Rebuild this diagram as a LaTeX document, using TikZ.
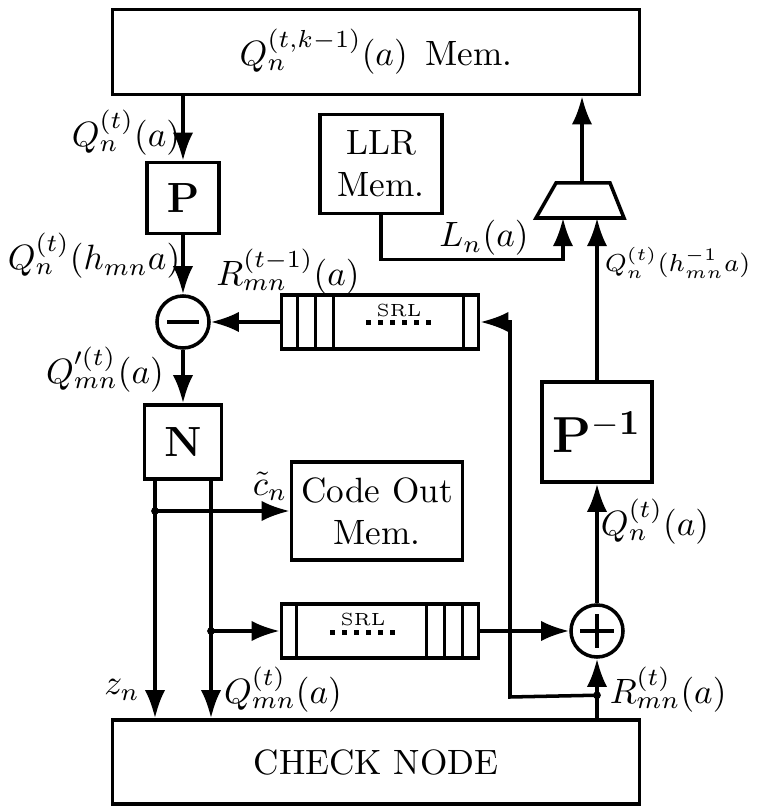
\documentclass[tikz,border=0pt]{standalone}
\usepackage{amsmath,amssymb}
\usepackage{tikz}
\usetikzlibrary{arrows.meta,positioning,calc}

\begin{document}
\begin{tikzpicture}[
    x=0.01cm, y=0.01cm,
    line width=1pt,
    >={Latex[length=8pt,width=5.8pt]},
    block/.style={draw, rectangle, align=center, inner sep=0pt},
    opcirc/.style={draw, circle, minimum size=0.52cm, inner sep=0pt},
    srlbox/.style={draw, rectangle, minimum width=1.97cm, minimum height=0.54cm, inner sep=0pt},
    jdot/.style={circle, fill, inner sep=0pt, minimum size=2.2pt}
]
\useasboundingbox (0,0) rectangle (756,806);

% memories and check node
\node[block, minimum width=5.27cm, minimum height=0.85cm] (qmem) at (376,754) {$Q_n^{(t,k-1)}(a)$\enspace Mem.};
\node[block, minimum width=5.27cm, minimum height=0.84cm] (check) at (376,44) {CHECK NODE};
\node[block, minimum width=1.22cm, minimum height=0.99cm] (llr) at (381,642) {LLR\\Mem.};
\node[block, minimum width=1.71cm, minimum height=0.98cm] (cout) at (377,295) {Code Out\\Mem.};

% left column
\node[block, minimum width=0.72cm, minimum height=0.71cm, font=\large] (perm) at (183,608) {$\mathbf{P}$};
\node[opcirc] (sub) at (183,484) {};
\node[block, minimum width=0.77cm, minimum height=0.74cm, font=\large] (norm) at (183,364) {$\mathbf{N}$};
\draw[line width=1.4pt] ($(sub.center)+(-16,0)$) -- ($(sub.center)+(16,0)$);

% right column
\node[opcirc] (add) at (597,175) {};
\node[block, minimum width=1.10cm, minimum height=1.00cm, font=\Large] (pinv) at (597,374) {$\mathbf{P^{-1}}$};
\draw[line width=1.4pt] ($(add.center)+(-17,0)$) -- ($(add.center)+(17,0)$)
    ($(add.center)+(0,-17)$) -- ($(add.center)+(0,17)$);

% shift registers
\node[srlbox] (srlup) at (380,484) {};
\node[srlbox] (srllow) at (380,175) {};
\foreach \d in {18,36,54} {
  \draw ($(srlup.south west)+(\d,0)$) -- ($(srlup.north west)+(\d,0)$);
  \draw ($(srllow.south east)+(-\d,0)$) -- ($(srllow.north east)+(-\d,0)$);
}
\draw ($(srlup.south east)+(-17,0)$) -- ($(srlup.north east)+(-17,0)$);
\draw ($(srllow.south west)+(17,0)$) -- ($(srllow.north west)+(17,0)$);
\node[font=\tiny, inner sep=0pt] (srlupt) at ($(srlup.center)+(19,11)$) {SRL};
\node[font=\tiny, inner sep=0pt] (srllowt) at ($(srllow.center)+(-17,12)$) {SRL};
\foreach \i in {0,...,5} {
  \fill ($(srlup.center)+(-14+\i*12,-3)$) rectangle ++(5,5);
  \fill ($(srllow.center)+(-50+\i*12,-4)$) rectangle ++(5,5);
}

% mux
\coordinate (muxin1) at (563,588);
\coordinate (muxin2) at (597,588);
\coordinate (muxout) at (582,623);
\draw (536,588) -- (624,588) -- (610,623) -- (556,623) -- cycle;

% connections
\draw[->] (qmem.south -| perm) -- (perm.north);
\draw[->] (perm) -- (sub);
\draw[->] (sub) -- (norm);
\draw[->] (srlup.west) -- (sub.east);
\coordinate (zout) at ($(norm.south)+(-28,0)$);
\coordinate (qout) at ($(norm.south)+(28,0)$);
\draw[->] (zout) -- (zout |- check.north);
\draw[->] (qout) -- (qout |- check.north);
\node[jdot] (j1) at (zout |- cout.west) {};
\node[jdot] (j2) at (qout |- srllow.west) {};
\draw[->] (j1.center) -- (cout.west);
\draw[->] (j2.center) -- (srllow.west);
\draw[->] (srllow.east) -- (add.west);
\draw[->] (check.north -| add) -- (add.south);
\node[jdot] (j3) at ($(check.north -| add)+(0,23)$) {};
\coordinate (fb) at (510,109);
\draw[->] (j3.center) -- (fb) |- (srlup.east);
\draw[->] (add) -- (pinv);
\draw[->] (pinv.north) -- (muxin2);
\draw[->] (llr.south) -- ++(0,-44) -| (muxin1);
\draw[->] (muxout) -- (muxout |- qmem.south);

% labels
\node (lqa) at (126,673) {$Q_n^{(t)}(a)$};
\node (lqh) at (94,550) {$Q_n^{(t)}(h_{mn}a)$};
\node (lrold) at (288,534) {$R_{mn}^{(t-1)}(a)$};
\node (lqp) at (105,436) {$Q'^{(t)}_{mn}(a)$};
\node (lc) at (270,320) {$\tilde{c}_n$};
\node (lz) at (122,116) {$z_n$};
\node (lqmn) at (283,116) {$Q_{mn}^{(t)}(a)$};
\node (lllr) at (484,568) {$L_n(a)$};
\node[anchor=east, inner sep=0pt, font=\fontsize{7.5}{9}\selectfont] (lqinv) at (752,543) {$Q_n^{(t)}(h_{mn}^{-1}a)$};
\node (lqr) at (655,284) {$Q_n^{(t)}(a)$};
\node[anchor=west, inner sep=0pt] (lrnew) at (608,116) {$R_{mn}^{(t)}(a)$};
\end{tikzpicture}
\end{document}
